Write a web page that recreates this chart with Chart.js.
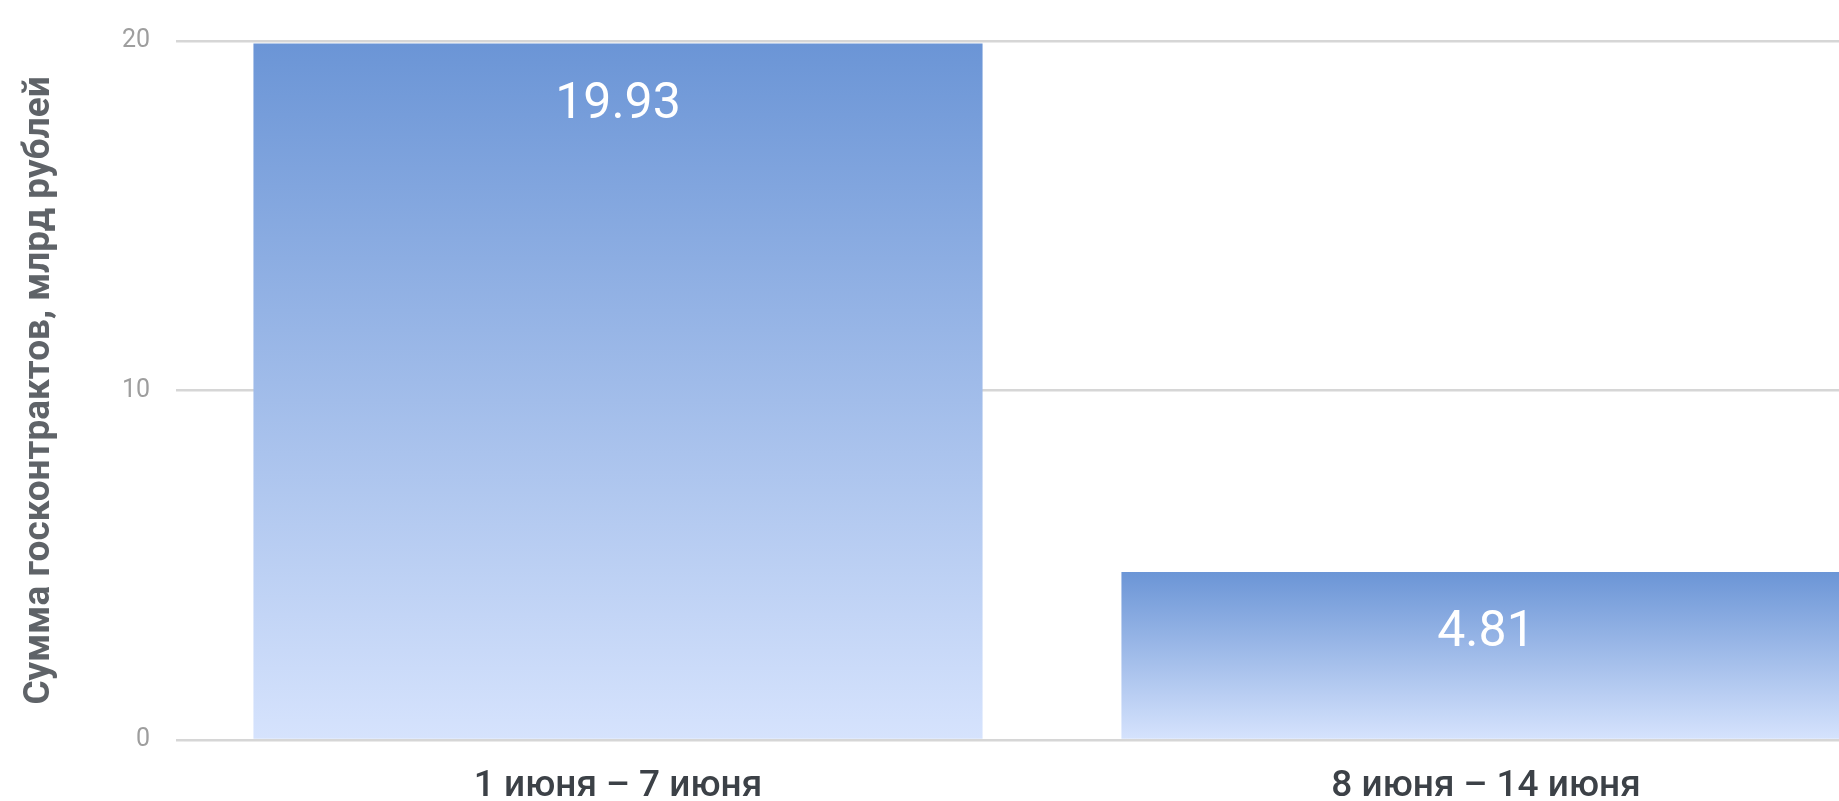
<!DOCTYPE html>
<html>
<head>
<meta charset="utf-8">
<script src="https://cdn.jsdelivr.net/npm/chart.js@4"></script>
<style>
html, body { margin: 0; padding: 0; overflow: hidden; background: #ffffff; }
#wrap { width: 1920px; height: 801px; position: relative; }
</style>
</head>
<body>
<div id="wrap"><canvas id="c"></canvas></div>
<script>
const categories = ['1 июня – 7 июня', '8 июня – 14 июня'];
const contractSums = [19.93, 4.81];
const yTicks = [0, 10, 20];
const yTitle = 'Сумма госконтрактов, млрд рублей';

function barGradient(context) {
  const chart = context.chart;
  const area = chart.chartArea;
  if (!area || context.type !== 'data') return '#6d96d7';
  const ys = chart.scales.y;
  const top = ys.getPixelForValue(context.raw);
  const base = ys.getPixelForValue(0);
  const g = chart.ctx.createLinearGradient(0, top, 0, base);
  g.addColorStop(0, '#6b95d6');
  g.addColorStop(1, '#d6e3fd');
  return g;
}

const valueLabels = {
  id: 'valueLabels',
  afterDatasetsDraw(chart) {
    const ctx = chart.ctx;
    const meta = chart.getDatasetMeta(0);
    ctx.save();
    ctx.fillStyle = '#ffffff';
    ctx.font = '400 50px Roboto';
    ctx.textAlign = 'center';
    ctx.textBaseline = 'middle';
    meta.data.forEach((bar, i) => {
      ctx.fillText(String(contractSums[i]), bar.x, bar.y + 62);
    });
    ctx.restore();
  }
};

new Chart(document.getElementById('c'), {
  type: 'bar',
  data: {
    labels: categories,
    datasets: [{
      data: contractSums,
      backgroundColor: barGradient,
      borderWidth: 0,
      categoryPercentage: 1,
      barPercentage: 0.84
    }]
  },
  options: {
    responsive: true,
    maintainAspectRatio: false,
    animation: false,
    layout: { padding: { top: 37, right: 0, bottom: 0, left: 0 } },
    plugins: { legend: { display: false }, tooltip: { enabled: false } },
    scales: {
      x: {
        grid: { display: false, drawTicks: false },
        border: { display: false },
        ticks: {
          padding: 25,
          color: '#3c4147',
          font: { family: 'Roboto', size: 37, weight: '500' }
        },
        afterFit(scale) { scale.height = 61; }
      },
      y: {
        min: 0,
        max: 20,
        afterBuildTicks(scale) { scale.ticks = yTicks.map(v => ({ value: v })); },
        grid: { color: '#d6d6d6', lineWidth: 2.5, drawTicks: true, tickLength: 8 },
        border: { display: false },
        ticks: {
          padding: 26,
          color: '#9e9e9e',
          font: { family: 'Roboto', size: 25 }
        },
        title: {
          display: true,
          text: yTitle,
          color: '#5f6368',
          font: { family: 'Roboto', size: 37, weight: 'bold' },
          padding: { top: 18, bottom: 0 }
        },
        afterFit(scale) { scale.width = 184; }
      }
    }
  },
  plugins: [valueLabels]
});
</script>
</body>
</html>
